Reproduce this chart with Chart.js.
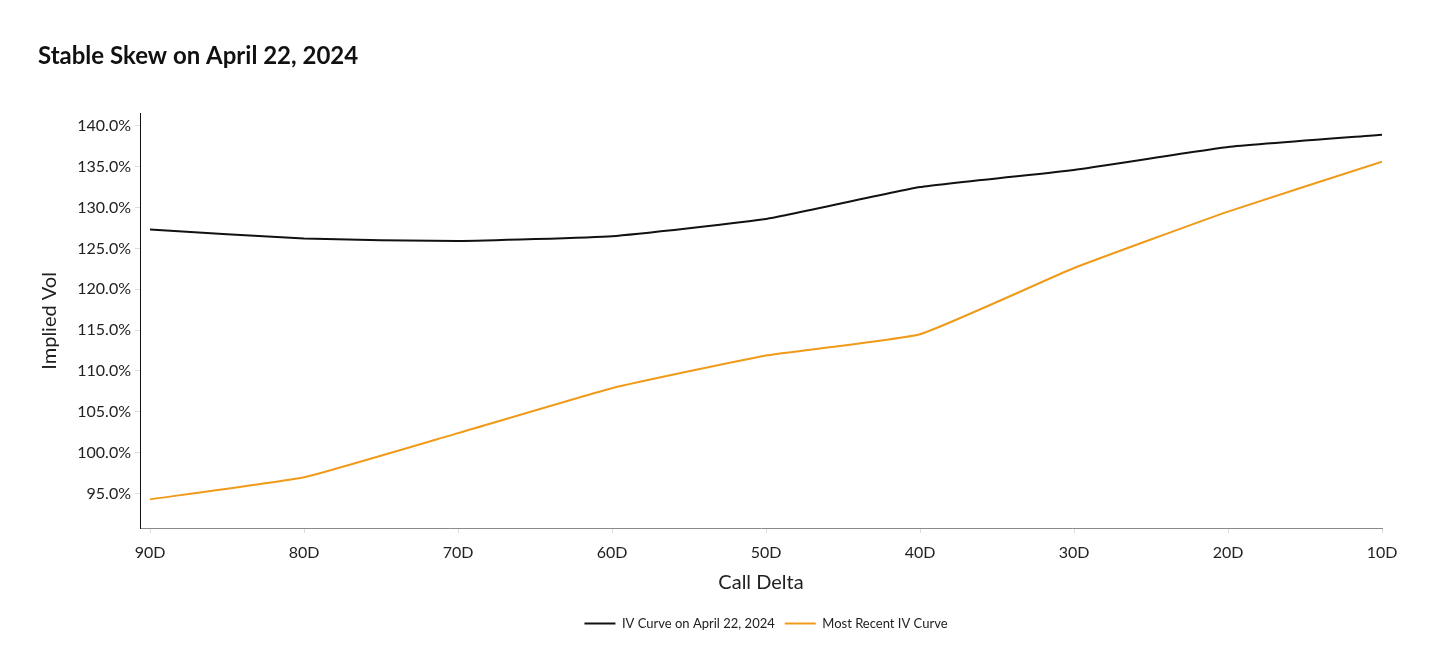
<!DOCTYPE html>
<html>
<head>
<meta charset="utf-8">
<script src="https://cdn.jsdelivr.net/npm/chart.js@4.4.1/dist/chart.umd.min.js"></script>
<style>
  html, body { margin: 0; padding: 0; background: #fff; }
  #wrap { width: 1456px; height: 660px; }
</style>
</head>
<body>
<div id="wrap"><canvas id="skewChart" width="1456" height="660"></canvas></div>
<script>
// Chart data
const deltas = [90, 80, 70, 60, 50, 40, 30, 20, 10];
const deltaLabels = ['90D', '80D', '70D', '60D', '50D', '40D', '30D', '20D', '10D'];
const ivApril22 = [127.3, 126.2, 125.9, 126.5, 128.6, 132.5, 134.6, 137.4, 138.9];
const ivRecent = [94.3, 97.0, 102.4, 107.9, 111.9, 114.5, 122.6, 129.5, 135.6];
const volTicks = [95, 100, 105, 110, 115, 120, 125, 130, 135, 140];

const FONT = 'Lato';

function toPoints(values) {
    return deltas.map((d, i) => ({ x: d, y: values[i] }));
}

// legend sits a bit right of the canvas centre in the original
const legendShift = {
    id: 'legendShift',
    afterLayout(chart) {
        chart.legend.left += 56;
        chart.legend.right += 56;
    }
};

const ctx = document.getElementById('skewChart').getContext('2d');

const skewChart = new Chart(ctx, {
    type: 'line',
    data: {
        datasets: [{
            label: 'IV Curve on April 22, 2024',
            data: toPoints(ivApril22),
            borderColor: '#111111',
            backgroundColor: '#111111',
            borderWidth: 2,
            pointRadius: 0,
            tension: 0.12
        }, {
            label: 'Most Recent IV Curve',
            data: toPoints(ivRecent),
            borderColor: '#f09a1a',
            backgroundColor: '#f09a1a',
            borderWidth: 2,
            pointRadius: 0,
            tension: 0.12
        }]
    },
    plugins: [legendShift],
    options: {
        responsive: false,
        animation: false,
        layout: { padding: { left: 38, right: 74, top: 0, bottom: 20 } },
        scales: {
            x: {
                type: 'linear',
                reverse: true,
                min: 10,
                max: 90.65,
                afterBuildTicks: scale => { scale.ticks = deltas.map(v => ({ value: v })); },
                afterFit: scale => { scale.height = 79; },
                grid: { drawOnChartArea: false, color: '#dddddd', tickLength: 5 },
                border: { color: '#8a8a8a', width: 1 },
                ticks: {
                    color: '#222',
                    font: { family: FONT, size: 16 },
                    padding: 10,
                    maxRotation: 0,
                    callback: v => deltaLabels[deltas.indexOf(v)]
                },
                title: {
                    display: true,
                    text: 'Call Delta',
                    color: '#222',
                    font: { family: FONT, size: 20 },
                    padding: { top: 0, bottom: 12 }
                }
            },
            y: {
                min: 90.79,
                max: 141.47,
                afterBuildTicks: scale => { scale.ticks = volTicks.map(v => ({ value: v })); },
                afterFit: scale => { scale.width = 102; },
                grid: { drawOnChartArea: false, color: '#dddddd', tickLength: 5 },
                border: { color: '#111111', width: 1 },
                ticks: {
                    color: '#222',
                    font: { family: FONT, size: 16 },
                    padding: 4,
                    callback: v => v.toFixed(1) + '%'
                },
                title: {
                    display: true,
                    text: 'Implied Vol',
                    color: '#222',
                    font: { family: FONT, size: 20 },
                    padding: { top: 0, bottom: 0 }
                }
            }
        },
        plugins: {
            title: {
                display: true,
                text: 'Stable Skew on April 22, 2024',
                align: 'start',
                color: '#111',
                font: { family: FONT, size: 24, weight: 'bold' },
                padding: { top: 42, bottom: 43 }
            },
            legend: {
                position: 'bottom',
                labels: {
                    usePointStyle: true,
                    pointStyle: 'line',
                    pointStyleWidth: 31,
                    color: '#222',
                    font: { family: FONT, size: 13 },
                    padding: 10
                }
            },
            tooltip: { enabled: false }
        }
    }
});
</script>
</body>
</html>
